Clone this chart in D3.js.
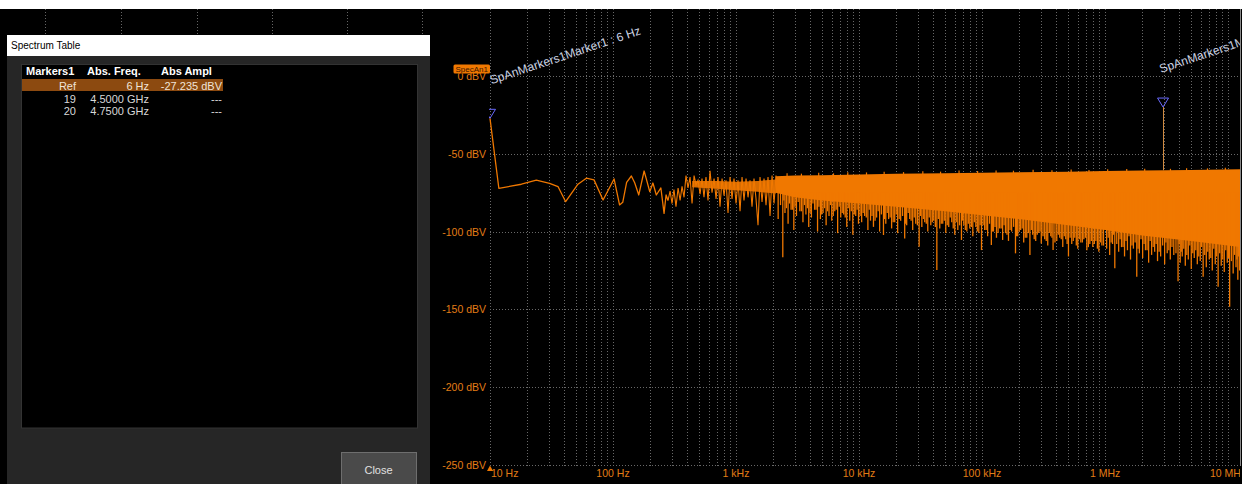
<!DOCTYPE html>
<html><head><meta charset="utf-8">
<script src="https://cdn.jsdelivr.net/npm/d3@7/dist/d3.min.js"></script>
<style>
html,body{margin:0;padding:0;background:#000;overflow:hidden}
svg{display:block}
text{font-family:"Liberation Sans",Arial,sans-serif}
</style>
</head><body>
<svg id="c" width="1242" height="484"></svg>
<script>
// ---------------- data ----------------
const yTickValues = [0, -50, -100, -150, -200, -250];
const yTickLabels = ["0 dBV", "-50 dBV", "-100 dBV", "-150 dBV", "-200 dBV", "-250 dBV"];
const xTickValues = [10, 100, 1e3, 1e4, 1e5, 1e6, 1e7];
const xTickLabels = ["10 Hz", "100 Hz", "1 kHz", "10 kHz", "100 kHz", "1 MHz", "10 MHz"];

// resolved low-frequency part of the trace (Hz, dBV)
const lowFreq = [6, 11.8, 18, 23.8, 30.5, 35.7, 41.2, 51.9, 60.7, 70.1, 83, 102, 113, 120, 129, 141, 150, 162, 179, 186, 199, 211, 225, 245, 260, 270, 280];
const lowDb = [-27.235, -72.2, -69.6, -67.0, -69.0, -71.1, -80.8, -69.6, -65.7, -66.8, -79.7, -66.2, -82.9, -81.2, -68.4, -64.3, -68.6, -76.5, -61.1, -65.8, -74.4, -68.8, -76.5, -72.0, -88.3, -76.5, -80];

// noisy but still sparse part (Hz, dBV)
const noiseFreq = [280, 291, 302, 313, 325, 338, 351, 364, 378, 392, 407, 423, 439, 456, 473, 491, 510, 529, 549, 570, 592, 615, 638, 663, 688, 714, 741, 770, 799, 829, 861, 894, 928, 963, 1000, 1038, 1078, 1119, 1161, 1206, 1252, 1299, 1349, 1400, 1454, 1509, 1567, 1627, 1689, 1753, 1820, 1890, 1962, 2037, 2114];
const noiseDb = [-80, -74, -82, -73, -84, -72, -80, -71, -78, -64, -72, -65, -82, -64, -70, -67, -76, -66, -78, -65, -80, -61, -75, -66, -79, -65, -84, -66, -77, -67, -88, -65, -79, -66, -82, -67, -87, -65, -80, -66, -78, -67, -84, -66, -79, -96, -65, -81, -66, -83, -65, -90, -64, -82, -64];

// denser core of the sparse part (Hz, dBV)
const coreFreq = [440, 700, 1000, 1500, 2114];
const coreTop = [-67.5, -67.5, -68, -67.5, -66.5];
const coreBase = [-71.5, -72.5, -73.5, -74.5, -75.5];

// dense noise band envelope (Hz, dBV)
const bandFreq = [2100, 3000, 5000, 1e4, 2e4, 5e4, 1e5, 2e5, 5e5, 1e6, 2e6, 5e6, 1.25e7];
const bandTop = [-64.5, -64, -63.8, -63.3, -62.9, -62.5, -62.2, -61.9, -61.5, -61.1, -60.8, -60.4, -60];
const bandBase = [-75, -78, -80, -82, -84, -87, -89.5, -92, -96, -99, -102.5, -106, -110];

// long downward spikes below the band (Hz, dBV)
const spikeFreq = [
  2200, 2400, 2500, 2650, 2800, 2950, 3100, 3300, 3500, 3700, 3900, 4100, 4350, 4600, 4850, 5100, 5400, 5700, 6000, 6350, 6700, 7100, 7500, 7950, 8400, 8900, 9400, 9900,
  10500, 11100, 11800, 12400, 13100, 13900, 14700, 15800, 16500, 17400, 18400, 19500, 20600, 21800, 23500, 24400, 25800, 27300, 28900, 30800, 32400, 34200, 36200, 38300, 40500, 42900, 45300, 47900, 50700, 53600, 56700, 60000, 63500, 68000, 71100, 75200, 79500, 84100, 89000, 94100, 99000,
  105e3, 111e3, 119e3, 124e3, 131e3, 139e3, 147e3, 155e3, 164e3, 174e3, 187e3, 195e3, 206e3, 218e3, 231e3, 245e3, 258e3, 273e3, 289e3, 303e3, 323e3, 342e3, 362e3, 378e3, 405e3, 428e3, 453e3, 479e3, 504e3, 536e3, 567e3, 600e3, 635e3, 672e3, 711e3, 752e3, 795e3, 842e3, 890e3, 942e3,
  1.03e6, 1.09e6, 1.15e6, 1.2e6, 1.29e6, 1.36e6, 1.44e6, 1.52e6, 1.61e6, 1.7e6, 1.81e6, 1.9e6, 2.02e6, 2.13e6, 2.26e6, 2.39e6, 2.53e6, 2.67e6, 2.83e6, 3.05e6, 3.2e6, 3.39e6, 3.62e6, 3.92e6, 4.08e6, 4.24e6, 4.49e6, 4.75e6, 5.02e6, 5.31e6, 5.62e6, 5.94e6, 6.27e6, 6.65e6, 7.03e6, 7.44e6, 7.87e6, 8.3e6, 8.8e6, 9.31e6, 9.85e6, 10.3e6, 11.0e6, 11.6e6, 12.0e6, 12.4e6];
const spikeDb = [
  -92, -116.5, -88, -95, -86, -99, -90, -87, -94, -89, -97, -91, -86, -100, -92, -88, -96, -90, -93, -87, -101, -91, -89, -97, -93, -102, -90, -95,
  -94, -90, -99, -93, -97, -91, -100, -102.2, -95, -92, -98, -94, -101, -93, -104.4, -96, -92, -99, -95, -109.7, -97, -94, -100, -96, -93, -124.7, -98, -95, -101, -97, -94, -102, -99, -105.4, -96, -100, -98, -103, -97, -101, -111.9,
  -99, -103, -108.7, -100, -104, -98, -105.4, -101, -106, -100, -114, -103, -99, -107, -104, -115, -102, -106, -101, -107.6, -105, -109, -103, -111.9, -106, -104, -110, -105, -116, -108, -104, -111, -107, -105, -112, -108, -110, -106, -113, -109,
  -111, -115, -108, -123.6, -113, -110, -116, -112, -118, -111, -129, -114, -117, -112, -120, -115, -113, -119, -116, -121, -114, -118, -115, -132, -120, -116, -122, -118, -124, -117, -121, -119, -129, -123, -118, -125, -121, -135.4, -122, -126, -120, -148.3, -127, -123, -131, -125];

// shorter spikes between the long ones (Hz, dBV)
const shortFreq = [
  2300, 2450, 2570, 2720, 2870, 3020, 3200, 3400, 3600, 3800, 4000, 4220, 4470, 4720, 4970, 5250, 5550, 5850, 6170, 6520, 6900, 7300, 7720, 8170, 8650, 9150, 9650, 10200,
  10800, 11450, 12100, 12750, 13500, 14300, 15200, 16150, 16950, 17900, 18950, 20050, 21200, 22600, 23950, 25100, 26500, 28100, 29800, 31600, 33300, 35200, 37200, 39400, 41700, 44100, 46600, 49300, 52100, 55100, 58300, 61700, 65700, 69500, 73100, 77300, 81800, 86500, 91500, 96500,
  102e3, 108e3, 115e3, 121.5e3, 127.5e3, 135e3, 143e3, 151e3, 159.5e3, 169e3, 180.5e3, 191e3, 200.5e3, 212e3, 224.5e3, 238e3, 251.5e3, 265.5e3, 281e3, 296e3, 313e3, 332.5e3, 352e3, 370e3, 391.5e3, 416.5e3, 440.5e3, 466e3, 491.5e3, 520e3, 551.5e3, 583.5e3, 617.5e3, 653.5e3, 691.5e3, 731.5e3, 773.5e3, 818.5e3, 866e3, 916e3, 971e3,
  1.06e6, 1.12e6, 1.175e6, 1.245e6, 1.325e6, 1.4e6, 1.48e6, 1.565e6, 1.655e6, 1.755e6, 1.855e6, 1.96e6, 2.075e6, 2.195e6, 2.325e6, 2.46e6, 2.6e6, 2.75e6, 2.94e6, 3.125e6, 3.3e6, 3.5e6, 3.77e6, 4.0e6, 4.16e6, 4.365e6, 4.62e6, 4.885e6, 5.165e6, 5.465e6, 5.78e6, 6.1e6, 6.46e6, 6.84e6, 7.235e6, 7.655e6, 8.08e6, 8.55e6, 9.05e6, 9.58e6, 10.07e6, 10.65e6, 11.3e6, 11.8e6, 12.2e6];
const shortDb = [
  -83, -80, -85, -82, -86, -84, -81, -87, -83, -85, -88, -82, -86, -84, -89, -85, -87, -83, -90, -86, -84, -88, -91, -85, -87, -89, -86, -90,
  -88, -91, -86, -90, -93, -87, -89, -92, -88, -91, -94, -89, -92, -90, -95, -88, -93, -91, -96, -90, -92, -95, -91, -94, -97, -92, -95, -93, -96, -91, -98, -94, -96, -93, -99, -95, -97, -94, -100, -96,
  -96, -99, -95, -100, -97, -101, -98, -96, -102, -99, -97, -103, -100, -98, -104, -101, -99, -105, -102, -100, -103, -106, -101, -104, -107, -102, -105, -103, -108, -104, -106, -109, -105, -107, -104, -110, -106, -108, -111, -107, -109,
  -104, -107, -102, -108, -105, -110, -106, -103, -109, -107, -111, -105, -108, -112, -106, -110, -108, -113, -109, -107, -112, -110, -114, -108, -113, -111, -115, -109, -114, -112, -116, -110, -115, -113, -117, -111, -116, -114, -118, -112, -117, -119, -115, -118, -116];

// small upward bumps on the band top (Hz, dBV)
const bumpFreq = [2600, 3400, 4700, 6200, 8100, 11500, 16000, 23000, 33000, 46000, 65000, 92000, 1.3e5, 1.8e5, 2.6e5, 3.7e5, 5.3e5, 7.4e5, 1.05e6, 1.5e6, 2.1e6, 3.4e6, 4.6e6, 6.8e6, 9.5e6];
const bumpDb = [-62.5, -62.8, -62.2, -62.6, -61.9, -62, -61.6, -61.8, -61.2, -61.5, -60.8, -61.1, -60.7, -60.9, -60.3, -60.6, -60.1, -60.4, -59.9, -59.8, -59.6, -59.7, -59.3, -59.4, -59];

// markers
const markerFreq = [6, 2.96e6];
const markerLevelDb = [-27.235, -20];
const markerTraceDb = [-27.235, -60.6];
const markerLabels = ["SpAnMarkers1Marker1 : 6 Hz", "SpAnMarkers1Marker2 : 2.96 MHz"];

// table
const tableHeaders = ["Markers1", "Abs. Freq.", "Abs Ampl"];
const tableMarkers = ["Ref", "19", "20"];
const tableFreqs = ["6 Hz", "4.5000 GHz", "4.7500 GHz"];
const tableAmpls = ["-27.235 dBV", "---", "---"];

// ---------------- drawing ----------------
const svg = d3.select("#c");
const ORANGE = "#f07800";
const LABEL = "#e27d16";

svg.append("rect").attr("x", 0).attr("y", 0).attr("width", 1242).attr("height", 484).attr("fill", "#000");
svg.append("rect").attr("x", 0).attr("y", 0).attr("width", 1242).attr("height", 9).attr("fill", "#fff");

const x = d3.scaleLog().domain([10, 1.25e7]).range([490, 1240]).clamp(true);
const y = d3.scaleLinear().domain([-250, 43]).range([465, 9]);

const defs = svg.append("defs");
defs.append("clipPath").attr("id", "plotClip").append("rect")
  .attr("x", 489).attr("y", 9).attr("width", 751).attr("height", 457);
defs.append("clipPath").attr("id", "labelClip").append("rect")
  .attr("x", 430).attr("y", 9).attr("width", 810).attr("height", 475);

// background scope grid remnants behind dialog
const bg = svg.append("g");
[45, 121, 197, 272, 347, 422].forEach(gx => {
  bg.append("line").attr("x1", gx + 0.5).attr("x2", gx + 0.5).attr("y1", 9).attr("y2", 35)
    .attr("stroke", "#666").attr("stroke-dasharray", "1,2");
});

// grid
const grid = svg.append("g");
x.ticks().forEach(t => {
  const gx = Math.round(x(t)) + 0.5;
  grid.append("line").attr("x1", gx).attr("x2", gx).attr("y1", 9).attr("y2", 466)
    .attr("stroke", "#686868").attr("stroke-dasharray", "1,2");
});
yTickValues.forEach(v => {
  const gy = Math.round(y(v)) + 0.5;
  grid.append("line").attr("x1", 490).attr("x2", 1240).attr("y1", gy).attr("y2", gy)
    .attr("stroke", "#686868").attr("stroke-dasharray", "1,2");
});

// trace
const plot = svg.append("g").attr("clip-path", "url(#plotClip)");
const line = d3.line().x(d => x(d[0])).y(d => y(d[1]));
const area = d3.area().x(d => x(d[0])).y0(d => y(d[2])).y1(d => y(d[1]));

plot.append("path").datum(d3.zip(bandFreq, bandTop, bandBase)).attr("d", area).attr("fill", ORANGE);
plot.append("path").datum(d3.zip(coreFreq, coreTop, coreBase)).attr("d", area).attr("fill", "#d86c00");

plot.selectAll("line.spk").data(d3.zip(spikeFreq, spikeDb)).join("line")
  .attr("class", "spk")
  .attr("x1", d => x(d[0])).attr("x2", d => x(d[0]))
  .attr("y1", y(-75)).attr("y2", d => y(d[1]))
  .attr("stroke", ORANGE).attr("stroke-width", 1.3);

plot.selectAll("line.sht").data(d3.zip(shortFreq, shortDb)).join("line")
  .attr("class", "sht")
  .attr("x1", d => x(d[0])).attr("x2", d => x(d[0]))
  .attr("y1", y(-75)).attr("y2", d => y(d[1]))
  .attr("stroke", ORANGE).attr("stroke-width", 1.3);

plot.selectAll("line.bmp").data(d3.zip(bumpFreq, bumpDb)).join("line")
  .attr("class", "bmp")
  .attr("x1", d => x(d[0])).attr("x2", d => x(d[0]))
  .attr("y1", d => y(d[1] - 3)).attr("y2", d => y(d[1]))
  .attr("stroke", ORANGE).attr("stroke-width", 1.2);

plot.append("path").datum(d3.zip(noiseFreq, noiseDb))
  .attr("d", line).attr("fill", "none").attr("stroke", ORANGE).attr("stroke-width", 1.1);

plot.append("path").datum(d3.zip(lowFreq, lowDb))
  .attr("d", line).attr("fill", "none").attr("stroke", ORANGE).attr("stroke-width", 1.3)
  .attr("stroke-linejoin", "round");

// markers
markerFreq.forEach((f, i) => {
  const mx = x(f);
  const apex = y(markerLevelDb[i]);
  if (markerTraceDb[i] !== markerLevelDb[i]) {
    plot.append("line").attr("x1", Math.round(mx) + 0.5).attr("x2", Math.round(mx) + 0.5)
      .attr("y1", apex).attr("y2", y(markerTraceDb[i]))
      .attr("stroke", "#d08a40").attr("stroke-width", 1);
  }
  plot.append("path")
    .attr("d", `M${mx - 5.5},${apex - 9}L${mx + 5.5},${apex - 9}L${mx},${apex}Z`)
    .attr("fill", "none").attr("stroke", "#6a6aff").attr("stroke-width", 1);
});

const lbl = svg.append("g").attr("clip-path", "url(#labelClip)");
markerFreq.forEach((f, i) => {
  const mx = Math.max(x(f) - 2, 491.5);
  const my = y(markerLevelDb[i]) - 34;
  lbl.append("text").attr("transform", `translate(${mx},${my}) rotate(-18.5)`)
    .attr("font-size", 12).attr("fill", "#cdd4e4").text(markerLabels[i]);
});

// axes labels
yTickValues.forEach((v, i) => {
  svg.append("text").attr("x", 486).attr("y", y(v) + 4)
    .attr("text-anchor", "end").attr("font-size", 10.5).attr("fill", LABEL).text(yTickLabels[i]);
});
xTickValues.forEach((v, i) => {
  lbl.append("text").attr("x", i === 0 ? x(v) + 1 : x(v)).attr("y", 477)
    .attr("text-anchor", i === 0 ? "start" : "middle")
    .attr("font-size", 10.5).attr("fill", LABEL).text(xTickLabels[i]);
});
svg.append("path").attr("d", "M487,471L493,471L490,465.5Z").attr("fill", ORANGE);

// SpecAn1 badge
svg.append("rect").attr("x", 453.5).attr("y", 64.5).attr("width", 36.5).attr("height", 9)
  .attr("rx", 1.5).attr("fill", ORANGE);
svg.append("text").attr("x", 471.7).attr("y", 72).attr("text-anchor", "middle")
  .attr("font-size", 8).attr("fill", "#3a1600").text("SpecAn1");

// right edge
svg.append("line").attr("x1", 1240.5).attr("x2", 1240.5).attr("y1", 9).attr("y2", 466)
  .attr("stroke", "#8a8a8a").attr("stroke-width", 1);

// ---------------- dialog ----------------
const dlg = svg.append("g");
dlg.append("rect").attr("x", 7).attr("y", 35).attr("width", 423).attr("height", 449).attr("fill", "#262626");
dlg.append("rect").attr("x", 7).attr("y", 35).attr("width", 423).attr("height", 21).attr("fill", "#fff");
dlg.append("text").attr("x", 11).attr("y", 49).attr("font-size", 10).attr("fill", "#000").text("Spectrum Table");
dlg.append("rect").attr("x", 21.5).attr("y", 64.5).attr("width", 396).attr("height", 363.5)
  .attr("fill", "#000").attr("stroke", "#333");
dlg.append("rect").attr("x", 22).attr("y", 79).attr("width", 201).attr("height", 12).attr("fill", "#8c4a10");

const headX = [26, 87, 161];
tableHeaders.forEach((h, i) => {
  dlg.append("text").attr("x", headX[i]).attr("y", 75).attr("font-size", 11)
    .attr("font-weight", "bold").attr("fill", "#fff").text(h);
});
const rowY = [89.5, 102.5, 115];
tableMarkers.forEach((m, i) => {
  const col = i === 0 ? "#f0e4d8" : "#d8d8d8";
  dlg.append("text").attr("x", 76).attr("y", rowY[i]).attr("text-anchor", "end")
    .attr("font-size", 11).attr("fill", col).text(m);
  dlg.append("text").attr("x", 149).attr("y", rowY[i]).attr("text-anchor", "end")
    .attr("font-size", 11).attr("fill", col).text(tableFreqs[i]);
  dlg.append("text").attr("x", 222).attr("y", rowY[i]).attr("text-anchor", "end")
    .attr("font-size", 11).attr("fill", col).text(tableAmpls[i]);
});

dlg.append("rect").attr("x", 341.5).attr("y", 452.5).attr("width", 75).attr("height", 40)
  .attr("fill", "#4a4a4a").attr("stroke", "#6e6e6e");
dlg.append("text").attr("x", 378.5).attr("y", 474).attr("text-anchor", "middle")
  .attr("font-size", 11).attr("fill", "#e0e0e0").text("Close");
</script>
</body></html>
